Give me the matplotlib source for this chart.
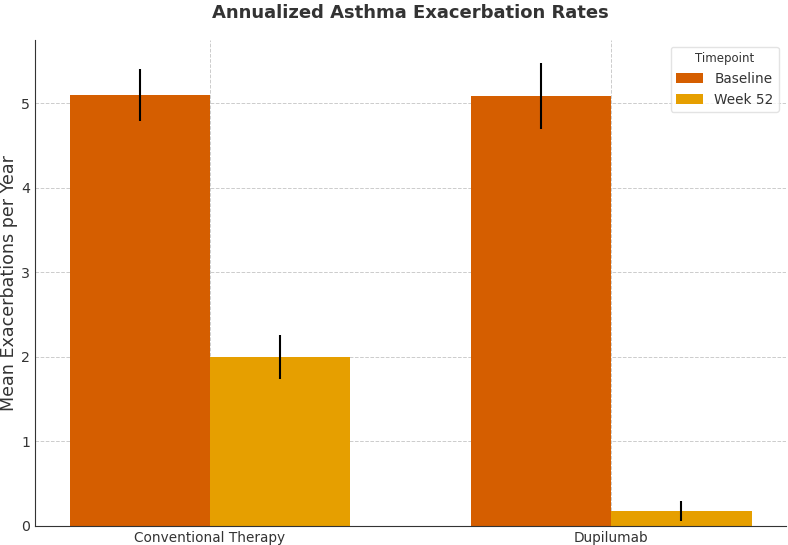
import numpy as np
import matplotlib
matplotlib.use("Agg")
import matplotlib.pyplot as plt

groups = ["Conventional Therapy", "Dupilumab"]
timepoints = ["Baseline", "Week 52"]
baseline = [5.10, 5.09]
baseline_err = [0.31, 0.39]
week52 = [2.00, 0.18]
week52_err = [0.26, 0.12]
colors = ["#D55E00", "#E69F00"]

fig, ax = plt.subplots(figsize=(7.88, 5.45), dpi=100)

x = np.arange(len(groups))
width = 0.35

ax.bar(x - width / 2, baseline, width, yerr=baseline_err, color=colors[0],
       label=timepoints[0], error_kw=dict(ecolor="black", elinewidth=1.5, capsize=0))
ax.bar(x + width / 2, week52, width, yerr=week52_err, color=colors[1],
       label=timepoints[1], error_kw=dict(ecolor="black", elinewidth=1.5, capsize=0))

ax.set_xticks(x)
ax.set_xticklabels(groups, fontsize=9.8, color="#333333")
ax.tick_params(axis="y", labelsize=10.2, labelcolor="#333333")
ax.tick_params(length=0, pad=4)
ax.set_ylabel("Mean Exacerbations per Year", fontsize=12.6, color="#333333", labelpad=2)
ax.set_title("Annualized Asthma Exacerbation Rates", fontsize=13, fontweight="bold",
             color="#333333", pad=16)

ax.grid(True, linestyle="--", color="#cccccc", linewidth=0.7)
ax.set_axisbelow(True)
ax.spines["top"].set_visible(False)
ax.spines["right"].set_visible(False)
ax.spines["left"].set_color("#333333")
ax.spines["bottom"].set_color("#333333")

leg = ax.legend(title="Timepoint", fontsize=9.8, title_fontsize=8.5, loc="upper right",
                handlelength=2.0, handletextpad=0.8)
leg.get_frame().set_edgecolor("#dddddd")
leg.get_title().set_color("#333333")
for t in leg.get_texts():
    t.set_color("#333333")

fig.subplots_adjust(left=0.045, right=0.997, top=0.927, bottom=0.035)
fig.savefig("out.png", dpi=100)
